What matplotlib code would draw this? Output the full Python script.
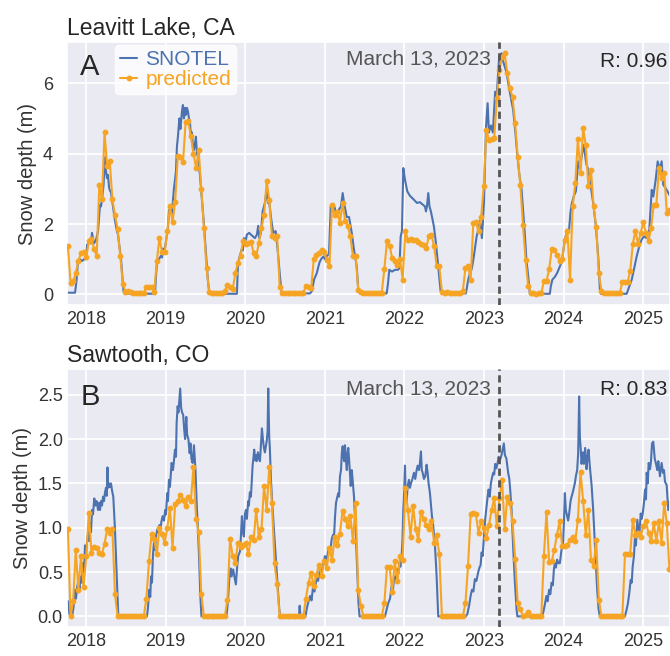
import datetime as dt

import matplotlib
matplotlib.use('Agg')
import matplotlib.dates as mdates
import matplotlib.pyplot as plt
import pandas as pd
import seaborn as sns

BLUE = '#4C72B0'
ORANGE = '#F6A423'
EVENT_COLOR = '#555555'

# predicted depth comes from the 12-day satellite revisit, starting here
PRED_START = '2017-10-10'
PRED_STEP = '12D'
EVENT_DATE = dt.datetime(2023, 3, 13)

# SNOTEL station record: (decimal year, depth in m)
leavitt_snotel = [
    (2017.774, 0.05), (2017.824, 0.05), (2017.862, 0.05), (2017.881, 0.40), (2017.899, 0.95),
    (2017.925, 1.00), (2017.950, 0.95), (2017.975, 1.00), (2018.000, 1.00), (2018.013, 1.40),
    (2018.038, 1.50), (2018.063, 1.45), (2018.075, 1.75), (2018.100, 1.45), (2018.126, 1.55),
    (2018.151, 1.80), (2018.176, 2.55), (2018.188, 2.50), (2018.201, 2.70), (2018.220, 3.10),
    (2018.239, 3.90), (2018.251, 3.50), (2018.264, 3.30), (2018.276, 3.40), (2018.289, 3.05),
    (2018.301, 2.95), (2018.314, 2.90), (2018.339, 2.50), (2018.364, 2.10), (2018.389, 1.80),
    (2018.402, 1.70), (2018.440, 1.00), (2018.471, 0.10), (2018.490, 0.03),
    (2018.867, 0.02), (2018.879, 0.50), (2018.892, 0.90), (2018.917, 1.00), (2018.942, 1.10),
    (2018.955, 1.05), (2018.967, 1.30), (2018.992, 1.30), (2019.005, 1.50), (2019.030, 1.90),
    (2019.043, 2.40), (2019.055, 2.30), (2019.068, 2.50), (2019.080, 2.30), (2019.105, 3.00),
    (2019.131, 3.50), (2019.143, 4.20), (2019.156, 4.50), (2019.174, 5.00), (2019.187, 4.70),
    (2019.206, 5.20), (2019.218, 5.38), (2019.231, 5.00), (2019.244, 5.30), (2019.256, 5.10),
    (2019.269, 5.30), (2019.281, 5.20), (2019.294, 5.00), (2019.306, 4.90), (2019.319, 4.50),
    (2019.331, 4.60), (2019.344, 4.20), (2019.357, 4.10), (2019.382, 4.48), (2019.394, 4.00),
    (2019.407, 3.90), (2019.432, 3.40), (2019.457, 2.70), (2019.482, 2.00), (2019.507, 1.20),
    (2019.532, 0.40), (2019.551, 0.02),
    (2019.897, 0.02), (2019.909, 0.80), (2019.922, 1.00), (2019.935, 1.10), (2019.960, 1.30),
    (2019.972, 1.25), (2019.985, 1.60), (2020.010, 1.55), (2020.022, 1.70), (2020.051, 1.75),
    (2020.073, 1.70), (2020.098, 1.65), (2020.123, 1.60), (2020.148, 1.70), (2020.164, 1.95),
    (2020.179, 1.60), (2020.198, 1.75), (2020.220, 2.36), (2020.236, 2.50), (2020.248, 2.60),
    (2020.270, 2.97), (2020.286, 2.60), (2020.299, 2.70), (2020.324, 2.20), (2020.336, 2.00),
    (2020.353, 1.75), (2020.383, 1.80), (2020.408, 1.27), (2020.437, 0.52), (2020.458, 0.03),
    (2020.814, 0.03), (2020.839, 0.10), (2020.864, 0.42), (2020.898, 0.60), (2020.931, 0.90),
    (2020.952, 1.00), (2020.981, 1.08), (2021.002, 1.00), (2021.027, 1.10), (2021.052, 1.15),
    (2021.074, 2.50), (2021.090, 2.35), (2021.119, 2.50), (2021.140, 2.30), (2021.165, 2.35),
    (2021.182, 2.43), (2021.203, 2.50), (2021.224, 2.88), (2021.241, 2.60), (2021.275, 2.20),
    (2021.304, 2.20), (2021.338, 1.75), (2021.366, 1.27), (2021.400, 0.80), (2021.421, 0.10),
    (2021.442, 0.03),
    (2021.777, 0.03), (2021.793, 0.30), (2021.810, 0.70), (2021.844, 0.65), (2021.881, 0.70),
    (2021.919, 0.70), (2021.938, 0.75), (2021.953, 1.65), (2021.969, 1.80), (2021.986, 3.59),
    (2022.007, 3.26), (2022.036, 2.93), (2022.070, 2.80), (2022.111, 2.71), (2022.158, 2.60),
    (2022.195, 2.62), (2022.233, 2.55), (2022.258, 2.50), (2022.271, 2.36), (2022.283, 2.50),
    (2022.300, 2.88), (2022.315, 2.50), (2022.334, 2.35), (2022.371, 1.93), (2022.396, 1.46),
    (2022.425, 0.80), (2022.455, 0.10), (2022.472, 0.03),
    (2022.773, 0.03), (2022.802, 0.42), (2022.823, 0.60), (2022.849, 0.75), (2022.874, 1.10),
    (2022.908, 1.65), (2022.924, 1.80), (2022.949, 2.10), (2022.974, 1.60), (2023.000, 2.60),
    (2023.025, 4.72), (2023.046, 5.43), (2023.062, 4.60), (2023.087, 4.80), (2023.112, 4.60),
    (2023.141, 5.76), (2023.162, 5.70), (2023.191, 6.75), (2023.221, 6.85), (2023.244, 6.60),
    (2023.284, 6.30), (2023.313, 5.90), (2023.338, 5.60), (2023.367, 5.24), (2023.395, 4.60),
    (2023.417, 4.02), (2023.445, 3.40), (2023.473, 2.97), (2023.495, 2.30), (2023.514, 1.70),
    (2023.533, 1.00), (2023.556, 0.52), (2023.577, 0.02),
    (2023.828, 0.02), (2023.841, 0.24), (2023.860, 0.42), (2023.891, 0.50), (2023.920, 0.61),
    (2023.954, 0.80), (2023.973, 0.90), (2023.988, 1.08), (2024.017, 1.56), (2024.046, 1.84),
    (2024.067, 1.75), (2024.086, 2.30), (2024.101, 2.55), (2024.130, 2.80), (2024.155, 2.93),
    (2024.184, 3.78), (2024.205, 3.60), (2024.239, 4.07), (2024.255, 4.25), (2024.274, 3.90),
    (2024.287, 3.70), (2024.310, 3.54), (2024.343, 3.05), (2024.372, 2.60), (2024.406, 1.93),
    (2024.435, 1.08), (2024.456, 0.14), (2024.469, 0.02),
    (2024.792, 0.02), (2024.814, 0.16), (2024.855, 0.42), (2024.883, 0.71), (2024.917, 1.08),
    (2024.950, 1.37), (2024.980, 1.56), (2025.009, 1.65), (2025.043, 1.60), (2025.076, 1.84),
    (2025.106, 2.97), (2025.126, 2.78), (2025.156, 3.26), (2025.181, 3.78), (2025.210, 3.54),
    (2025.231, 3.78), (2025.251, 3.12), (2025.294, 2.97), (2025.336, 2.80),
]

leavitt_predicted = [
    1.37, 0.34, 0.37, 0.60, 0.95, 1.18, 1.20, 1.05, 1.51, 1.58,
    1.30, 1.10, 3.10, 2.70, 4.60, 3.64, 3.78, 2.70, 2.25, 1.85,
    1.10, 0.30, 0.08, 0.10, 0.06, 0.04, 0.05, 0.03, 0.05, 0.04,
    0.20, 0.22, 0.20, 0.08, 0.95, 1.60, 1.20, 1.20, 1.80, 2.50,
    2.05, 2.64, 3.92, 3.90, 3.75, 4.89, 4.92, 4.50, 4.00, 3.60,
    4.10, 3.00, 1.90, 0.75, 0.08, 0.05, 0.04, 0.05, 0.03, 0.05,
    0.10, 0.28, 0.22, 0.15, 0.60, 0.90, 1.10, 1.51, 1.42, 1.45,
    1.50, 1.18, 1.08, 1.46, 1.90, 2.25, 3.21, 2.69, 1.65, 1.60,
    1.65, 0.20, 0.05, 0.04, 0.05, 0.03, 0.04, 0.05, 0.03, 0.04,
    0.05, 0.24, 0.20, 0.17, 1.00, 1.13, 1.18, 1.27, 1.20, 0.97,
    0.82, 2.55, 2.27, 2.35, 2.03, 2.60, 2.10, 1.94, 1.65, 1.08,
    1.10, 0.14, 0.07, 0.05, 0.04, 0.05, 0.03, 0.05, 0.04, 0.05,
    0.05, 0.73, 1.51, 1.37, 1.04, 0.94, 0.85, 1.00, 0.42, 1.80,
    1.56, 1.58, 1.56, 1.55, 1.50, 1.42, 1.40, 1.32, 1.65, 1.70,
    1.37, 0.82, 0.80, 0.08, 0.05, 0.08, 0.05, 0.03, 0.03, 0.03,
    0.05, 0.10, 0.75, 0.80, 0.42, 2.03, 2.05, 1.79, 2.20, 3.07,
    4.67, 4.39, 4.42, 4.44, 5.57, 6.37, 6.75, 6.85, 6.28, 5.86,
    5.60, 4.86, 3.90, 3.10, 1.98, 0.99, 0.24, 0.03, 0.03, 0.02,
    0.03, 0.03, 0.38, 0.38, 0.71, 1.29, 1.25, 1.13, 0.94, 1.00,
    1.56, 1.80, 0.42, 2.50, 3.16, 4.41, 3.45, 4.72, 4.24, 3.07,
    3.54, 2.50, 1.93, 0.61, 0.10, 0.04, 0.04, 0.03, 0.04, 0.04,
    0.03, 0.04, 0.35, 0.35, 0.35, 0.66, 1.44, 1.80, 1.44, 1.75,
    2.05, 1.75, 1.51, 1.89, 2.55, 2.55, 3.59, 3.30, 3.45, 2.32,
    2.40,
]

sawtooth_snotel = [
    (2017.774, 0.17), (2017.793, 0.02), (2017.824, 0.00), (2017.843, 0.10), (2017.862, 0.30),
    (2017.874, 0.20), (2017.887, 0.32), (2017.903, 0.40), (2017.918, 0.30), (2017.931, 0.45),
    (2017.946, 0.38), (2017.962, 0.60), (2017.975, 0.50), (2017.987, 0.80), (2018.000, 0.70),
    (2018.013, 0.85), (2018.029, 0.95), (2018.038, 0.85), (2018.050, 1.05), (2018.063, 0.95),
    (2018.075, 1.20), (2018.088, 1.15), (2018.104, 1.33), (2018.119, 1.25), (2018.134, 1.30),
    (2018.151, 1.20), (2018.163, 1.28), (2018.176, 1.20), (2018.188, 1.30), (2018.201, 1.25),
    (2018.214, 1.35), (2018.226, 1.30), (2018.239, 1.40), (2018.251, 1.45), (2018.261, 1.36),
    (2018.270, 1.68), (2018.279, 1.45), (2018.289, 1.50), (2018.301, 1.46), (2018.314, 1.50),
    (2018.327, 1.42), (2018.343, 1.35), (2018.352, 1.20), (2018.364, 0.98), (2018.385, 0.50),
    (2018.406, 0.00),
    (2018.766, 0.00), (2018.779, 0.10), (2018.795, 0.30), (2018.808, 0.22), (2018.817, 0.45),
    (2018.829, 0.38), (2018.842, 0.70), (2018.854, 0.83), (2018.867, 0.75), (2018.879, 0.90),
    (2018.896, 0.98), (2018.911, 0.95), (2018.923, 1.03), (2018.936, 0.98), (2018.948, 1.07),
    (2018.963, 1.13), (2018.980, 1.08), (2018.996, 1.20), (2019.005, 1.15), (2019.021, 1.39),
    (2019.030, 1.30), (2019.043, 1.54), (2019.055, 1.46), (2019.076, 1.73), (2019.093, 1.65),
    (2019.105, 1.75), (2019.118, 1.88), (2019.131, 1.80), (2019.139, 2.18), (2019.152, 2.37),
    (2019.162, 2.30), (2019.174, 2.45), (2019.184, 2.57), (2019.196, 2.35), (2019.208, 2.30),
    (2019.222, 2.27), (2019.235, 2.10), (2019.246, 2.00), (2019.261, 2.25), (2019.271, 2.05),
    (2019.287, 2.00), (2019.303, 1.84), (2019.313, 1.95), (2019.325, 1.78), (2019.340, 1.73),
    (2019.357, 1.93), (2019.376, 1.65), (2019.390, 1.30), (2019.407, 0.98), (2019.424, 0.60),
    (2019.436, 0.25), (2019.451, 0.00),
    (2019.765, 0.00), (2019.775, 0.08), (2019.788, 0.23), (2019.800, 0.41), (2019.818, 0.54),
    (2019.830, 0.45), (2019.850, 0.53), (2019.865, 0.45), (2019.884, 0.36), (2019.900, 0.56),
    (2019.913, 0.68), (2019.935, 0.73), (2019.947, 0.90), (2019.960, 1.13), (2019.972, 0.95),
    (2019.985, 0.90), (2019.997, 1.15), (2020.010, 1.20), (2020.022, 1.10), (2020.039, 1.30),
    (2020.047, 1.25), (2020.060, 1.40), (2020.073, 1.35), (2020.085, 1.55), (2020.094, 1.70),
    (2020.104, 1.78), (2020.114, 1.88), (2020.127, 1.76), (2020.135, 1.82), (2020.144, 1.75),
    (2020.161, 1.85), (2020.173, 1.78), (2020.186, 1.75), (2020.198, 1.93), (2020.211, 2.12),
    (2020.223, 2.00), (2020.236, 1.90), (2020.248, 1.85), (2020.270, 1.97), (2020.282, 2.09),
    (2020.290, 2.57), (2020.302, 2.03), (2020.311, 1.88), (2020.324, 1.54), (2020.340, 1.28),
    (2020.361, 0.98), (2020.383, 0.68), (2020.408, 0.34), (2020.428, 0.08), (2020.440, 0.00),
    (2020.675, 0.00), (2020.684, 0.12), (2020.694, 0.00), (2020.757, 0.00), (2020.772, 0.08),
    (2020.789, 0.15), (2020.814, 0.23), (2020.833, 0.18), (2020.855, 0.36), (2020.870, 0.28),
    (2020.898, 0.45), (2020.914, 0.40), (2020.939, 0.53), (2020.958, 0.48), (2020.981, 0.60),
    (2021.002, 0.68), (2021.021, 0.63), (2021.044, 0.75), (2021.065, 0.72), (2021.086, 0.87),
    (2021.103, 0.92), (2021.115, 0.90), (2021.128, 1.13), (2021.140, 1.28), (2021.157, 1.35),
    (2021.169, 1.39), (2021.178, 1.35), (2021.190, 1.58), (2021.203, 1.65), (2021.213, 1.84),
    (2021.224, 1.92), (2021.234, 1.80), (2021.243, 1.75), (2021.253, 1.93), (2021.266, 1.75),
    (2021.276, 1.65), (2021.287, 1.85), (2021.294, 1.90), (2021.306, 1.75), (2021.325, 1.47),
    (2021.338, 1.65), (2021.348, 1.55), (2021.366, 1.35), (2021.388, 0.95), (2021.408, 0.50),
    (2021.423, 0.15), (2021.436, 0.00),
    (2021.756, 0.00), (2021.777, 0.08), (2021.797, 0.15), (2021.819, 0.20), (2021.840, 0.34),
    (2021.856, 0.30), (2021.873, 0.45), (2021.891, 0.40), (2021.910, 0.53), (2021.923, 0.48),
    (2021.935, 0.60), (2021.950, 0.56), (2021.965, 0.68), (2021.975, 0.85), (2021.986, 1.20),
    (2021.997, 1.40), (2022.007, 1.70), (2022.016, 1.35), (2022.028, 1.30), (2022.041, 1.47),
    (2022.057, 1.54), (2022.070, 1.45), (2022.082, 1.50), (2022.101, 1.55), (2022.120, 1.62),
    (2022.136, 1.55), (2022.154, 1.65), (2022.166, 1.70), (2022.183, 1.65), (2022.195, 1.73),
    (2022.208, 1.86), (2022.218, 1.65), (2022.229, 1.62), (2022.245, 1.55), (2022.262, 1.58),
    (2022.279, 1.71), (2022.292, 1.62), (2022.304, 1.50), (2022.321, 1.39), (2022.334, 1.25),
    (2022.346, 1.13), (2022.362, 1.02), (2022.384, 0.80), (2022.405, 0.45), (2022.425, 0.00),
    (2022.773, 0.00), (2022.792, 0.03), (2022.815, 0.13), (2022.832, 0.23), (2022.849, 0.30),
    (2022.867, 0.28), (2022.886, 0.42), (2022.905, 0.40), (2022.928, 0.50), (2022.943, 0.55),
    (2022.958, 0.58), (2022.970, 0.72), (2022.983, 0.68), (2023.000, 0.90), (2023.016, 1.10),
    (2023.033, 1.24), (2023.046, 1.35), (2023.058, 1.43), (2023.072, 1.35), (2023.087, 1.50),
    (2023.100, 1.56), (2023.116, 1.62), (2023.129, 1.60), (2023.141, 1.72), (2023.156, 1.67),
    (2023.171, 1.73), (2023.184, 1.80), (2023.200, 1.76), (2023.221, 1.82), (2023.234, 1.88),
    (2023.250, 1.95), (2023.263, 1.82), (2023.282, 1.78), (2023.304, 1.62), (2023.319, 1.55),
    (2023.332, 1.40), (2023.347, 1.20), (2023.367, 0.78), (2023.389, 0.38), (2023.410, 0.08),
    (2023.420, 0.00),
    (2023.728, 0.00), (2023.744, 0.04), (2023.765, 0.13), (2023.784, 0.23), (2023.799, 0.17),
    (2023.819, 0.30), (2023.834, 0.25), (2023.850, 0.38), (2023.866, 0.35), (2023.879, 0.53),
    (2023.891, 0.60), (2023.904, 0.55), (2023.920, 0.64), (2023.935, 0.60), (2023.954, 0.60),
    (2023.975, 0.75), (2023.995, 0.83), (2024.008, 1.13), (2024.017, 1.39), (2024.029, 1.20),
    (2024.046, 1.13), (2024.058, 1.08), (2024.071, 1.16), (2024.088, 1.30), (2024.101, 1.35),
    (2024.114, 1.39), (2024.130, 1.45), (2024.142, 1.50), (2024.155, 1.58), (2024.171, 1.65),
    (2024.184, 1.84), (2024.196, 2.48), (2024.205, 2.03), (2024.215, 1.90), (2024.226, 1.72),
    (2024.243, 1.85), (2024.255, 1.72), (2024.272, 1.90), (2024.289, 1.66), (2024.302, 1.80),
    (2024.314, 1.88), (2024.331, 1.68), (2024.352, 1.48), (2024.372, 1.20), (2024.393, 0.83),
    (2024.406, 0.60), (2024.422, 0.30), (2024.440, 0.08), (2024.456, 0.00),
    (2024.770, 0.00), (2024.792, 0.08), (2024.808, 0.15), (2024.824, 0.26), (2024.842, 0.41),
    (2024.855, 0.38), (2024.867, 0.56), (2024.883, 0.68), (2024.896, 0.90), (2024.908, 0.80),
    (2024.925, 1.09), (2024.937, 1.00), (2024.950, 0.90), (2024.968, 1.16), (2024.980, 1.10),
    (2024.993, 1.16), (2025.009, 1.28), (2025.022, 1.43), (2025.034, 1.32), (2025.043, 1.62),
    (2025.056, 1.50), (2025.068, 1.73), (2025.085, 1.66), (2025.097, 1.75), (2025.110, 1.95),
    (2025.126, 1.97), (2025.144, 1.78), (2025.160, 1.72), (2025.176, 1.65), (2025.189, 1.75),
    (2025.210, 1.58), (2025.231, 1.73), (2025.247, 1.62), (2025.260, 1.65), (2025.273, 1.52),
    (2025.294, 1.48), (2025.314, 1.20), (2025.336, 1.30),
]

sawtooth_predicted = [
    0.99, 0.00, 0.17, 0.75, 0.30, 0.68, 0.33, 0.68, 1.17, 0.72,
    0.78, 0.77, 0.72, 0.70, 0.82, 0.98, 0.94, 0.98, 0.25, 0.00,
    0.00, 0.00, 0.00, 0.00, 0.00, 0.00, 0.00, 0.00, 0.00, 0.00,
    0.20, 0.62, 0.93, 0.87, 0.70, 1.00, 0.93, 0.83, 1.00, 1.22,
    0.77, 1.27, 1.30, 1.37, 1.31, 1.24, 1.35, 1.30, 1.68, 1.10,
    0.95, 0.25, 0.00, 0.00, 0.00, 0.00, 0.00, 0.00, 0.00, 0.00,
    0.00, 0.19, 0.87, 0.68, 0.60, 0.83, 0.78, 0.80, 0.83, 0.70,
    0.89, 0.86, 1.20, 0.89, 0.98, 1.47, 1.20, 1.69, 1.28, 0.60,
    0.36, 0.00, 0.00, 0.00, 0.00, 0.00, 0.00, 0.00, 0.00, 0.00,
    0.00, 0.20, 0.38, 0.49, 0.34, 0.47, 0.58, 0.45, 0.62, 0.55,
    0.77, 0.64, 0.89, 0.80, 0.93, 1.19, 1.10, 1.02, 1.13, 0.85,
    1.28, 0.30, 0.12, 0.00, 0.00, 0.00, 0.00, 0.00, 0.00, 0.00,
    0.00, 0.15, 0.56, 0.56, 0.28, 0.62, 0.40, 0.68, 0.64, 1.45,
    1.20, 0.90, 1.24, 0.98, 0.86, 1.18, 1.10, 1.03, 0.99, 1.08,
    0.83, 0.92, 0.70, 0.00, 0.00, 0.00, 0.00, 0.00, 0.00, 0.00,
    0.00, 0.00, 0.15, 0.57, 1.16, 1.17, 1.15, 0.94, 1.07, 1.00,
    0.88, 1.03, 1.20, 1.33, 1.02, 1.33, 1.54, 0.98, 1.35, 1.28,
    1.07, 0.65, 0.15, 0.08, 0.00, 0.02, 0.05, 0.00, 0.00, 0.00,
    0.00, 0.00, 0.68, 1.18, 0.61, 0.62, 0.75, 0.92, 1.07, 0.79,
    0.79, 0.81, 0.86, 0.90, 0.85, 1.09, 1.63, 1.30, 0.92, 1.20,
    0.64, 0.57, 0.86, 0.19, 0.00, 0.00, 0.00, 0.00, 0.00, 0.00,
    0.00, 0.00, 0.00, 0.70, 0.70, 0.70, 1.09, 0.92, 0.94, 0.89,
    1.02, 1.07, 0.94, 0.85, 1.05, 0.85, 1.07, 0.83, 1.28, 1.05,
    0.53,
]

stations = ['Leavitt Lake, CA', 'Sawtooth, CO']
panel_letters = ['A', 'B']
r_values = [0.96, 0.83]


def to_dates(years):
    out = []
    for y in years:
        year = int(y)
        start = dt.datetime(year, 1, 1)
        span = dt.datetime(year + 1, 1, 1) - start
        out.append(start + span * (y - year))
    return out


def draw_panel(ax, snotel, predicted, title, letter, r_value, ylim, yticks, yfmt,
               tick_pad, text_y, show_legend):
    t, depth = zip(*snotel)
    pred_dates = pd.date_range(PRED_START, periods=len(predicted), freq=PRED_STEP)

    ax.plot(to_dates(t), depth, color=BLUE, lw=1.5, label='SNOTEL', zorder=2)
    ax.plot(pred_dates, predicted, color=ORANGE, lw=1.5, marker='o', ms=3.2,
            label='predicted', zorder=3)
    ax.axvline(EVENT_DATE, color=EVENT_COLOR, lw=2, ls=(0, (2.6, 1.6)), zorder=4)

    ax.set_xlim(to_dates([2017.761, 2025.336]))
    ax.set_ylim(*ylim)
    ax.set_yticks(yticks)
    ax.set_yticklabels([yfmt % v for v in yticks])
    ax.xaxis.set_major_locator(mdates.YearLocator())
    ax.xaxis.set_major_formatter(mdates.DateFormatter('%Y'))
    ax.tick_params(axis='both', length=0, labelsize=13, colors='#333333')
    ax.tick_params(axis='x', pad=4)
    ax.tick_params(axis='y', pad=tick_pad)
    ax.grid(True, color='white', lw=1.3)
    ax.set_ylabel('Snow depth (m)', fontsize=14.5, color='#333333')
    ax.set_title(title, loc='left', fontsize=16.5, pad=5)

    ax.text(0.022, text_y[0] - 0.04, letter, transform=ax.transAxes, fontsize=21,
            va='baseline', ha='left')
    ax.annotate('March 13, 2023', xy=(EVENT_DATE, text_y[0]),
                xycoords=('data', 'axes fraction'), xytext=(-6, 0),
                textcoords='offset points', ha='right', va='baseline',
                fontsize=15, color=EVENT_COLOR)
    ax.text(0.995, text_y[1], 'R: %.2f' % r_value, transform=ax.transAxes,
            ha='right', va='baseline', fontsize=15)

    if show_legend:
        ax.legend(loc='upper left', bbox_to_anchor=(0.08, 0.99), fontsize=15,
                  labelcolor='linecolor', handlelength=0.8, handletextpad=0.4,
                  labelspacing=0.05, borderpad=0.25, borderaxespad=0,
                  frameon=True, facecolor='white', edgecolor='white', framealpha=0.8)


def main():
    sns.set_theme(style='darkgrid')
    plt.rcParams['font.family'] = ['Liberation Sans', 'DejaVu Sans']

    fig = plt.figure(figsize=(6.7, 6.56), dpi=100)
    top = fig.add_axes([0.1, 0.535, 0.9, 0.401])
    bottom = fig.add_axes([0.1, 0.0442, 0.9, 0.3933])

    draw_panel(top, leavitt_snotel, leavitt_predicted, stations[0], panel_letters[0],
               r_values[0], (-0.3, 7.17), [0, 2, 4, 6], '%d', 10, (0.915, 0.905), True)
    draw_panel(bottom, sawtooth_snotel, sawtooth_predicted, stations[1], panel_letters[1],
               r_values[1], (-0.12, 2.79), [0.0, 0.5, 1.0, 1.5, 2.0, 2.5], '%.1f', 3,
               (0.9, 0.9), False)

    fig.savefig('out.png', dpi=100)


if __name__ == '__main__':
    main()
